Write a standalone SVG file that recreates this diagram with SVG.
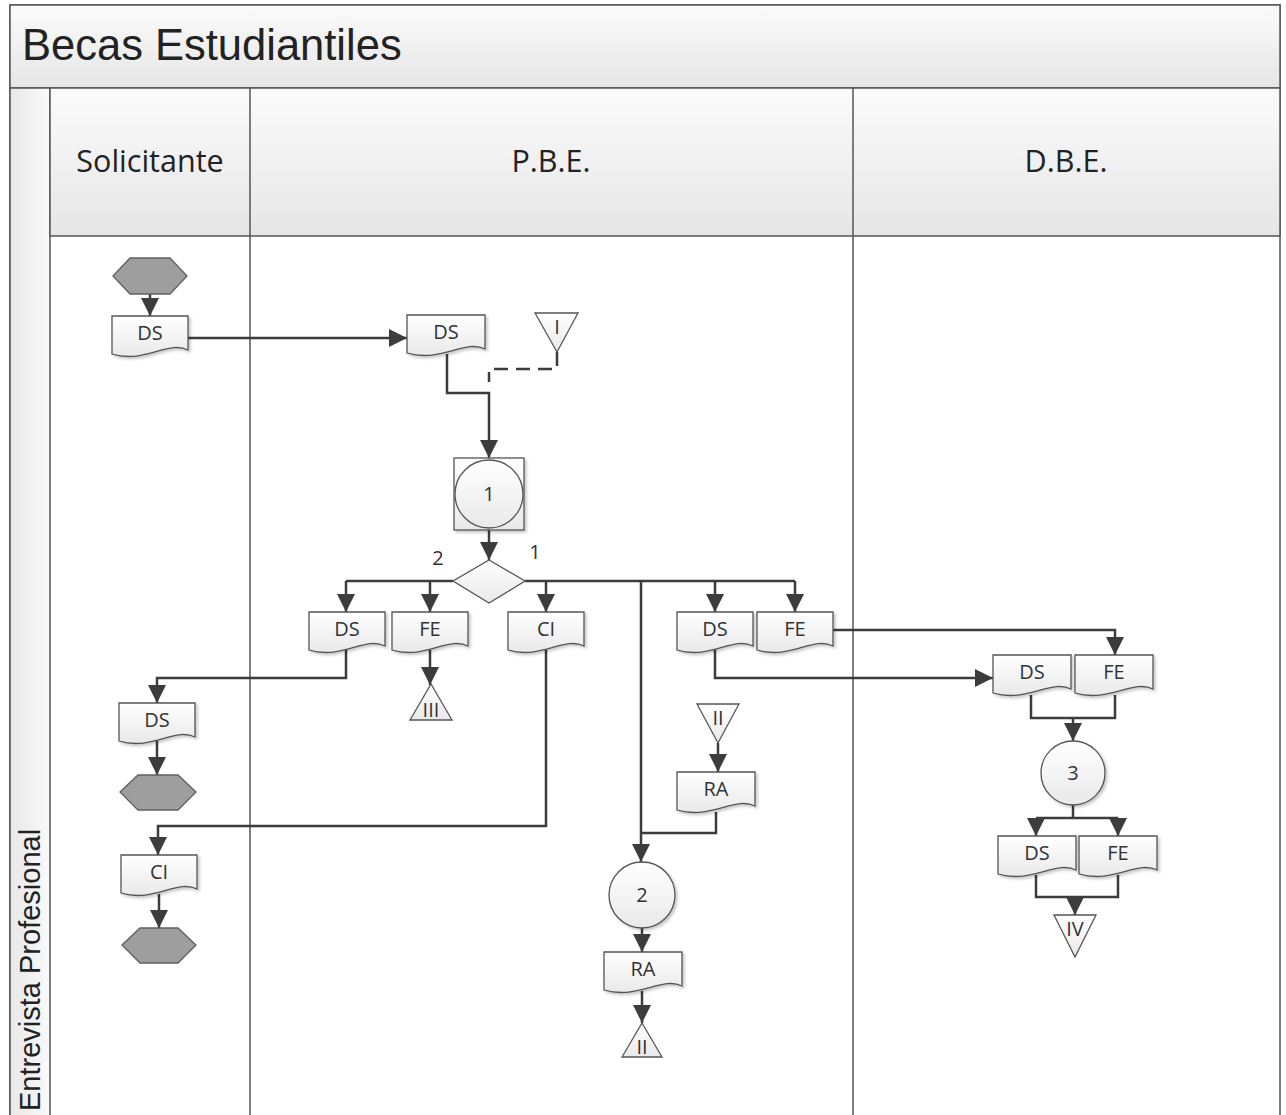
<svg xmlns="http://www.w3.org/2000/svg" width="1286" height="1115" viewBox="0 0 1286 1115">
  <style>
    .lane { stroke: #555; stroke-width: 1.5; }
    .doc { fill: url(#docFill); stroke: #555; stroke-width: 1.3; filter: url(#shadow); }
    .proc { fill: url(#docFill); stroke: #555; stroke-width: 1.3; filter: url(#shadow); }
    .term { fill: #9e9e9e; stroke: #606060; stroke-width: 1.3; }
    .lbl { font-family: "Open Sans", "DejaVu Sans", sans-serif; font-size: 20px; fill: #333; text-anchor: middle; }
    .num { font-family: "Open Sans", "DejaVu Sans", sans-serif; font-size: 20px; fill: #333; text-anchor: middle; }
    .hdr { font-family: "Open Sans", "DejaVu Sans", sans-serif; font-size: 30.5px; fill: #222; text-anchor: middle; }
    .flow { fill: none; stroke: #3c3c3c; stroke-width: 2.5; }
    .arr { marker-end: url(#ah); }
    .dash { stroke-dasharray: 14 8; }
  </style>
  <defs>
    <linearGradient id="docFill" x1="0" y1="0" x2="0" y2="1">
      <stop offset="0" stop-color="#ffffff"/>
      <stop offset="1" stop-color="#e9e9e9"/>
    </linearGradient>
    <linearGradient id="hdrFill" x1="0" y1="0" x2="0" y2="1">
      <stop offset="0" stop-color="#fbfbfb"/>
      <stop offset="1" stop-color="#e6e6e6"/>
    </linearGradient>
    <linearGradient id="sideFill" x1="0" y1="0" x2="1" y2="0">
      <stop offset="0" stop-color="#e8e8e8"/>
      <stop offset="1" stop-color="#fafafa"/>
    </linearGradient>
    <filter id="shadow" x="-10%" y="-10%" width="130%" height="140%">
      <feDropShadow dx="2" dy="2" stdDeviation="1.5" flood-color="#000" flood-opacity="0.22"/>
    </filter>
    <marker id="ah" markerUnits="userSpaceOnUse" markerWidth="18" markerHeight="18" viewBox="0 0 18 18" refX="18" refY="9" orient="auto">
      <path d="M0,0 L18,9 L0,18 z" fill="#3c3c3c"/>
    </marker>
  </defs>

  <!-- pool frame, title bar, lane headers -->
  <g id="pool">
    <rect x="10" y="5" width="1270" height="1115" fill="#fff" stroke="#555" stroke-width="1.5"/>
    <rect x="10" y="5" width="1270" height="83" fill="url(#hdrFill)" stroke="#555" stroke-width="1.5"/>
    <text x="22" y="60" font-family="Liberation Sans, Arial, sans-serif" font-size="43.5" fill="#222">Becas Estudiantiles</text>
    <rect x="10" y="88" width="40" height="1030" fill="url(#sideFill)" class="lane"/>
    <text transform="translate(40,1111) rotate(-90)" font-family="Liberation Sans, Arial, sans-serif" font-size="29" fill="#222">Entrevista Profesional</text>
    <rect x="50" y="88" width="1230" height="148" fill="url(#hdrFill)" class="lane"/>
    <line x1="250" y1="88" x2="250" y2="1115" class="lane"/>
    <line x1="853" y1="88" x2="853" y2="1115" class="lane"/>
    <text x="150" y="172" class="hdr">Solicitante</text>
    <text x="551" y="172" class="hdr">P.B.E.</text>
    <text x="1066" y="172" class="hdr">D.B.E.</text>
  </g>

  <!-- connectors -->
  <g id="connectors">
    <path class="flow arr" d="M150,293 V316"/>
    <path class="flow arr" d="M188,338 H407"/>
    <path class="flow arr" d="M447,354 V393 H489 V458"/>
    <path class="flow dash" d="M557,352 V369 H489 V382"/>
    <path class="flow arr" d="M489,530 V560"/>
    <path class="flow" d="M453,581 H346"/>
    <path class="flow arr" d="M346,581 V612"/>
    <path class="flow arr" d="M430,581 V612"/>
    <path class="flow" d="M525,581 H795"/>
    <path class="flow arr" d="M795,581 V612"/>
    <path class="flow arr" d="M546,581 V612"/>
    <path class="flow arr" d="M715,581 V612"/>
    <path class="flow arr" d="M641,581 V862"/>
    <path class="flow arr" d="M346,650 V678 H157 V703"/>
    <path class="flow arr" d="M430,650 V685"/>
    <path class="flow arr" d="M157,741 V775"/>
    <path class="flow arr" d="M546,650 V826 H158 V855"/>
    <path class="flow arr" d="M159,894 V928"/>
    <path class="flow arr" d="M718,743 V772"/>
    <path class="flow" d="M716,812 V833 H641"/>
    <path class="flow arr" d="M642,928 V952"/>
    <path class="flow arr" d="M642,991 V1023"/>
    <path class="flow arr" d="M715,650 V678 H993"/>
    <path class="flow arr" d="M833,630 H1115 V655"/>
    <path class="flow" d="M1031,695 V718 H1115 V695"/>
    <path class="flow arr" d="M1073,718 V741"/>
    <path class="flow" d="M1073,805 V818 M1036,818 H1118"/>
    <path class="flow arr" d="M1036,818 V836"/>
    <path class="flow arr" d="M1118,818 V836"/>
    <path class="flow" d="M1036,875 V897 H1118 V875"/>
    <path class="flow arr" d="M1075,897 V915"/>
  </g>

  <!-- Solicitante -->
  <g id="start">
    <polygon class="term" points="113,276 130,258 170,258 187,276 170,294 130,294"/>
  </g>
  <g id="ds-sol-1">
    <path class="doc" d="M112,316 H188 V350 C168,340 145,364 112,354 Z"/>
    <text x="150" y="340" class="lbl">DS</text>
  </g>
  <g id="ds-sol-2">
    <path class="doc" d="M119,703 H195 V737 C175,727 152,751 119,741 Z"/>
    <text x="157" y="727" class="lbl">DS</text>
  </g>
  <g id="end-ds">
    <polygon class="term" points="120,792 138,775 178,775 196,792 178,810 138,810"/>
  </g>
  <g id="ci-sol">
    <path class="doc" d="M121,855 H197 V889 C177,879 154,903 121,893 Z"/>
    <text x="159" y="879" class="lbl">CI</text>
  </g>
  <g id="end-ci">
    <polygon class="term" points="122,945 140,928 178,928 196,945 178,963 140,963"/>
  </g>

  <!-- P.B.E. -->
  <g id="ds-pbe">
    <path class="doc" d="M407,315 H485 V349 C465,339 441,363 407,353 Z"/>
    <text x="446" y="339" class="lbl">DS</text>
  </g>
  <g id="file-i">
    <polygon points="535,313 578,313 557,352" fill="url(#docFill)" stroke="#555" stroke-width="1.3"/>
    <text x="557" y="334" class="lbl">I</text>
  </g>
  <g id="op-1">
    <rect class="proc" x="454" y="458" width="70" height="72"/>
    <circle cx="489" cy="494" r="34" fill="url(#docFill)" stroke="#555" stroke-width="1.3"/>
    <text x="489" y="501" class="num">1</text>
  </g>
  <g id="decision">
    <polygon points="489,560 525,581 489,603 453,581" fill="url(#docFill)" stroke="#555" stroke-width="1.3"/>
    <text x="438" y="565" class="num">2</text>
    <text x="535" y="559" class="num">1</text>
  </g>
  <g id="ds-rej">
    <path class="doc" d="M309,612 H385 V646 C365,636 342,660 309,650 Z"/>
    <text x="347" y="636" class="lbl">DS</text>
  </g>
  <g id="fe-rej">
    <path class="doc" d="M392,612 H468 V646 C448,636 425,660 392,650 Z"/>
    <text x="430" y="636" class="lbl">FE</text>
  </g>
  <g id="file-iii">
    <polygon points="431,684 452,720 410,720" fill="url(#docFill)" stroke="#555" stroke-width="1.3"/>
    <text x="431" y="717" class="lbl">III</text>
  </g>
  <g id="ci-pbe">
    <path class="doc" d="M508,612 H584 V646 C564,636 541,660 508,650 Z"/>
    <text x="546" y="636" class="lbl">CI</text>
  </g>
  <g id="ds-acc">
    <path class="doc" d="M677,612 H753 V646 C733,636 710,660 677,650 Z"/>
    <text x="715" y="636" class="lbl">DS</text>
  </g>
  <g id="fe-acc">
    <path class="doc" d="M757,612 H833 V646 C813,636 790,660 757,650 Z"/>
    <text x="795" y="636" class="lbl">FE</text>
  </g>
  <g id="file-ii-in">
    <polygon points="697,704 739,704 718,743" fill="url(#docFill)" stroke="#555" stroke-width="1.3"/>
    <text x="718" y="725" class="lbl">II</text>
  </g>
  <g id="ra-in">
    <path class="doc" d="M677,772 H755 V806 C735,796 711,820 677,810 Z"/>
    <text x="716" y="796" class="lbl">RA</text>
  </g>
  <g id="op-2">
    <circle cx="642" cy="895" r="33" fill="url(#docFill)" stroke="#555" stroke-width="1.3" filter="url(#shadow)"/>
    <text x="642" y="902" class="num">2</text>
  </g>
  <g id="ra-out">
    <path class="doc" d="M604,952 H682 V986 C662,976 638,1000 604,990 Z"/>
    <text x="643" y="976" class="lbl">RA</text>
  </g>
  <g id="file-ii-out">
    <polygon points="642,1023 662,1057 622,1057" fill="url(#docFill)" stroke="#555" stroke-width="1.3"/>
    <text x="642" y="1054" class="lbl">II</text>
  </g>

  <!-- D.B.E. -->
  <g id="ds-dbe-1">
    <path class="doc" d="M993,655 H1071 V689 C1051,679 1027,703 993,693 Z"/>
    <text x="1032" y="679" class="lbl">DS</text>
  </g>
  <g id="fe-dbe-1">
    <path class="doc" d="M1075,655 H1153 V689 C1133,679 1109,703 1075,693 Z"/>
    <text x="1114" y="679" class="lbl">FE</text>
  </g>
  <g id="op-3">
    <circle cx="1073" cy="773" r="32" fill="url(#docFill)" stroke="#555" stroke-width="1.3" filter="url(#shadow)"/>
    <text x="1073" y="780" class="num">3</text>
  </g>
  <g id="ds-dbe-2">
    <path class="doc" d="M998,836 H1076 V870 C1056,860 1032,884 998,874 Z"/>
    <text x="1037" y="860" class="lbl">DS</text>
  </g>
  <g id="fe-dbe-2">
    <path class="doc" d="M1079,836 H1157 V870 C1137,860 1113,884 1079,874 Z"/>
    <text x="1118" y="860" class="lbl">FE</text>
  </g>
  <g id="file-iv">
    <polygon points="1054,915 1096,915 1075,957" fill="url(#docFill)" stroke="#555" stroke-width="1.3"/>
    <text x="1075" y="936" class="lbl">IV</text>
  </g>
</svg>
